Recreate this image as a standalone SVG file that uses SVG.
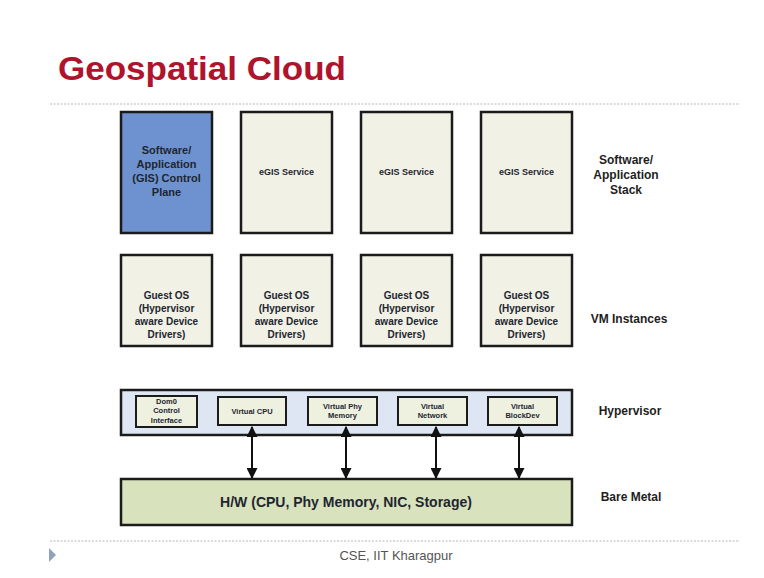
<svg xmlns="http://www.w3.org/2000/svg" width="764" height="578" viewBox="0 0 764 578">
<defs>
<marker id="ah" viewBox="0 0 10 10" refX="9" refY="5" markerWidth="5.5" markerHeight="5.5" orient="auto-start-reverse" markerUnits="strokeWidth">
<path d="M0,0 L10,5 L0,10 z" fill="#111"/>
</marker>
<style>
.box{stroke:#1b1b1b;stroke-width:2.5}
.cream{fill:#f1f1e6}
.blue{fill:#6e92cf}
.t{font-family:"Liberation Sans",Arial,sans-serif;font-weight:bold;fill:#1e2630;text-anchor:middle}
.lbl{font-family:"Liberation Sans",Arial,sans-serif;font-weight:bold;fill:#1e1e1e;text-anchor:middle;font-size:12px}
.inner{fill:#eef0e0;stroke:#1b1b1b;stroke-width:2}
.dot{stroke:#cfcfcf;stroke-width:1.5;stroke-dasharray:2 1.5}
</style>
</defs>
<rect width="764" height="578" fill="#ffffff"/>
<text x="58" y="80" font-family="'Liberation Sans',Arial,sans-serif" font-weight="bold" font-size="34" fill="#b0142c" textLength="288" lengthAdjust="spacingAndGlyphs">Geospatial Cloud</text>
<line class="dot" x1="50" y1="104" x2="740" y2="104"/>
<line class="dot" x1="50" y1="541" x2="740" y2="541"/>
<path d="M49,548 L56,555 L49,562 z" fill="#8fa3bd"/>
<text x="396" y="560" font-family="'Liberation Sans',Arial,sans-serif" font-size="13" fill="#555" text-anchor="middle">CSE, IIT Kharagpur</text>

<g id="control-plane">
<rect class="box blue" x="121" y="112" width="91" height="121"/>
<text class="t" font-size="11" x="166.5" y="154">Software/</text>
<text class="t" font-size="11" x="166.5" y="168">Application</text>
<text class="t" font-size="11" x="166.5" y="182">(GIS) Control</text>
<text class="t" font-size="11" x="166.5" y="196">Plane</text>
</g>
<g id="egis1">
<rect class="box cream" x="241" y="112" width="91" height="121"/>
<text class="t" font-size="9" x="286.5" y="175">eGIS Service</text>
</g>
<g id="egis2">
<rect class="box cream" x="361" y="112" width="91" height="121"/>
<text class="t" font-size="9" x="406.5" y="175">eGIS Service</text>
</g>
<g id="egis3">
<rect class="box cream" x="481" y="112" width="91" height="121"/>
<text class="t" font-size="9" x="526.5" y="175">eGIS Service</text>
</g>

<g id="vm1">
<rect class="box cream" x="121" y="255" width="91" height="91"/>
<text class="t" font-size="10" x="166.5" y="299">Guest OS</text>
<text class="t" font-size="10" x="166.5" y="312">(Hypervisor</text>
<text class="t" font-size="10" x="166.5" y="325">aware Device</text>
<text class="t" font-size="10" x="166.5" y="338">Drivers)</text>
</g>
<g id="vm2">
<rect class="box cream" x="241" y="255" width="91" height="91"/>
<text class="t" font-size="10" x="286.5" y="299">Guest OS</text>
<text class="t" font-size="10" x="286.5" y="312">(Hypervisor</text>
<text class="t" font-size="10" x="286.5" y="325">aware Device</text>
<text class="t" font-size="10" x="286.5" y="338">Drivers)</text>
</g>
<g id="vm3">
<rect class="box cream" x="361" y="255" width="91" height="91"/>
<text class="t" font-size="10" x="406.5" y="299">Guest OS</text>
<text class="t" font-size="10" x="406.5" y="312">(Hypervisor</text>
<text class="t" font-size="10" x="406.5" y="325">aware Device</text>
<text class="t" font-size="10" x="406.5" y="338">Drivers)</text>
</g>
<g id="vm4">
<rect class="box cream" x="481" y="255" width="91" height="91"/>
<text class="t" font-size="10" x="526.5" y="299">Guest OS</text>
<text class="t" font-size="10" x="526.5" y="312">(Hypervisor</text>
<text class="t" font-size="10" x="526.5" y="325">aware Device</text>
<text class="t" font-size="10" x="526.5" y="338">Drivers)</text>
</g>

<g id="hypervisor">
<rect x="121" y="390" width="451" height="45" fill="#dde6f2" stroke="#1b1b1b" stroke-width="2.5"/>
</g>
<g id="dom0">
<rect class="inner" x="136" y="396" width="61" height="31"/>
<text class="t" font-size="7.5" x="166.5" y="404">Dom0</text>
<text class="t" font-size="7.5" x="166.5" y="413">Control</text>
<text class="t" font-size="7.5" x="166.5" y="422.5">Interface</text>
</g>
<g id="vcpu">
<rect class="inner" x="218" y="397" width="68" height="28"/>
<text class="t" font-size="7.5" x="252" y="414">Virtual CPU</text>
</g>
<g id="vmem">
<rect class="inner" x="308" y="397" width="69" height="28"/>
<text class="t" font-size="7.5" x="342.5" y="409">Virtual Phy</text>
<text class="t" font-size="7.5" x="342.5" y="418">Memory</text>
</g>
<g id="vnet">
<rect class="inner" x="398" y="397" width="69" height="28"/>
<text class="t" font-size="7.5" x="432.5" y="409">Virtual</text>
<text class="t" font-size="7.5" x="432.5" y="418">Network</text>
</g>
<g id="vblock">
<rect class="inner" x="488" y="397" width="69" height="28"/>
<text class="t" font-size="7.5" x="522.5" y="409">Virtual</text>
<text class="t" font-size="7.5" x="522.5" y="418">BlockDev</text>
</g>

<g id="hardware">
<rect x="121" y="479" width="451" height="46" fill="#d8e2bd" stroke="#1b1b1b" stroke-width="2.5"/>
<text class="t" font-size="14" x="346" y="507">H/W (CPU, Phy Memory, NIC, Storage)</text>
</g>

<g id="connectors" stroke="#111" stroke-width="2" fill="none">
<line x1="252" y1="427" x2="252" y2="478" marker-start="url(#ah)" marker-end="url(#ah)"/>
<line x1="346" y1="427" x2="346" y2="478" marker-start="url(#ah)" marker-end="url(#ah)"/>
<line x1="436" y1="427" x2="436" y2="478" marker-start="url(#ah)" marker-end="url(#ah)"/>
<line x1="519" y1="427" x2="519" y2="478" marker-start="url(#ah)" marker-end="url(#ah)"/>
</g>

<g id="layer-labels">
<text class="lbl" x="626" y="164">Software/</text>
<text class="lbl" x="626" y="179">Application</text>
<text class="lbl" x="626" y="194">Stack</text>
<text class="lbl" x="629" y="323">VM Instances</text>
<text class="lbl" x="630" y="415">Hypervisor</text>
<text class="lbl" x="631" y="501">Bare Metal</text>
</g>
</svg>
